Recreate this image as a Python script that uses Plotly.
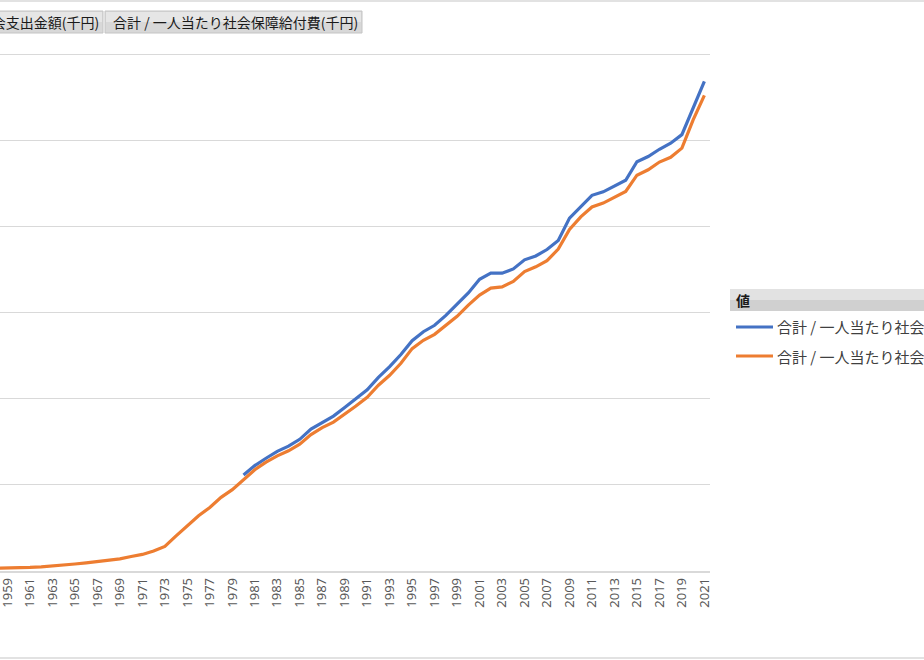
import plotly.graph_objects as go

# 一人当たり社会保障給付費 (千円)
years = list(range(1951, 2022))
benefit_per_capita = [
    1.9, 2.5, 3.0, 3.5, 4.4, 4.5, 4.8, 5.5, 6.0, 7.0,
    8.4, 9.8, 11.6, 13.8, 16.3, 18.9, 21.4, 24.5, 28.1, 33.7,
    38.5, 46.5, 57.2, 81.6, 105.2, 128.5, 147.7, 171.2, 189.1, 212.6,
    235.3, 252.9, 267.5, 279.4, 294.8, 317.0, 333.0, 346.0, 364.4, 383.2,
    403.7, 431.8, 454.8, 482.8, 516.7, 536.1, 549.9, 570.0, 591.9, 617.8,
    641.0, 657.3, 660.1, 672.9, 695.6, 706.8, 721.1, 747.9, 793.8, 822.8,
    845.9, 855.0, 868.9, 882.1, 919.7, 932.3, 950.3, 961.2, 982.6, 1048.4,
    1105.2,
]

# 一人当たり社会支出金額 (千円)
expense_years = list(range(1980, 2022))
expense_per_capita = [
    223, 245, 262, 278, 290, 306, 330, 346, 360, 380,
    400, 421, 450, 475, 503, 535, 556, 571, 594, 620,
    646, 678, 692, 692, 702, 723, 732, 747, 768, 820,
    847, 873, 881, 894, 908, 951, 963, 980, 994, 1014,
    1077, 1138,
]

tick_years = list(range(1959, 2022, 2))

name_expense = "合計 / 一人当たり社会支出金額(千円)"
name_benefit = "合計 / 一人当たり社会保障給付費(千円)"

BLUE = "#4472C4"
ORANGE = "#ED7D31"
GRID = "#d9d9d9"
FONT = "Noto Sans CJK JP"

# page / plot geometry (pixels)
W, H = 924, 660
L, R, T, B = 0, 214, 52, 89
plot_w = W - L - R
plot_h = H - T - B


def px(x):
    return (x - L) / plot_w


def py(y):
    return (H - B - y) / plot_h


fig = go.Figure()
fig.add_trace(go.Scatter(
    x=expense_years, y=expense_per_capita, name=name_expense,
    mode="lines", line=dict(color=BLUE, width=3.2),
))
fig.add_trace(go.Scatter(
    x=years, y=benefit_per_capita, name=name_benefit,
    mode="lines", line=dict(color=ORANGE, width=3.2),
))

shapes = []
annotations = []

# chart border lines (top and bottom)
for yy in (1, 658):
    shapes.append(dict(type="line", xref="paper", yref="paper",
                       x0=px(0), x1=px(W), y0=py(yy), y1=py(yy),
                       line=dict(color=GRID, width=1.5)))

# pivot field buttons
buttons = [(-200, 103, name_expense), (105, 362, name_benefit)]
for x0, x1, label in buttons:
    shapes.append(dict(type="rect", xref="paper", yref="paper",
                       x0=px(x0), x1=px(x1), y0=py(33), y1=py(11),
                       fillcolor="#d8d8d8", line=dict(color="#c4c4c4", width=1)))
    shapes.append(dict(type="rect", xref="paper", yref="paper",
                       x0=px(x0 + 1), x1=px(x1 - 1), y0=py(22), y1=py(12),
                       fillcolor="#e6e6e6", line=dict(width=0)))
    annotations.append(dict(xref="paper", yref="paper", x=px(x1 - 2), y=py(22),
                            xanchor="right", yanchor="middle", showarrow=False,
                            text=label, font=dict(family=FONT, size=14, color="#1a1a1a")))

# legend panel
shapes.append(dict(type="rect", xref="paper", yref="paper",
                   x0=px(730), x1=px(W + 5), y0=py(311), y1=py(289),
                   fillcolor="#d0d0d0", line=dict(width=0)))
shapes.append(dict(type="rect", xref="paper", yref="paper",
                   x0=px(730), x1=px(W + 5), y0=py(300), y1=py(289),
                   fillcolor="#e2e2e2", line=dict(width=0)))
annotations.append(dict(xref="paper", yref="paper", x=px(734), y=py(300),
                        xanchor="left", yanchor="middle", showarrow=False,
                        text="<b>値</b>", font=dict(family=FONT, size=14, color="#1a1a1a")))
for yy, color, label in [(327, BLUE, name_expense), (356, ORANGE, name_benefit)]:
    shapes.append(dict(type="line", xref="paper", yref="paper",
                       x0=px(736), x1=px(773), y0=py(yy), y1=py(yy),
                       line=dict(color=color, width=3.2)))
    annotations.append(dict(xref="paper", yref="paper", x=px(775), y=py(yy),
                            xanchor="left", yanchor="middle", showarrow=False,
                            text=label, font=dict(family=FONT, size=15, color="#404040")))

fig.update_layout(
    width=W, height=H,
    margin=dict(l=L, r=R, t=T, b=B, autoexpand=False),
    paper_bgcolor="white", plot_bgcolor="white",
    showlegend=False,
    shapes=shapes,
    annotations=annotations,
    font=dict(family=FONT),
    xaxis=dict(
        range=[2021.5 - plot_w / 11.24, 2021.5],
        tickmode="array", tickvals=tick_years,
        ticktext=[str(y) for y in tick_years],
        tickangle=-90,
        tickfont=dict(family="Noto Sans", size=13, color="#595959"),
        ticklabeloverflow="allow",
        showgrid=False, zeroline=False,
        showline=True, linecolor=GRID, linewidth=1.5,
        ticks="",
    ),
    yaxis=dict(
        range=[0, 1206], dtick=200,
        showticklabels=False,
        gridcolor=GRID, gridwidth=1.2,
        zeroline=False, showline=False,
    ),
)

# page body has an 8px default margin; drop it so the chart sits at the window corner
fig.write_html(
    "out.html",
    config={"displayModeBar": False},
    post_script="document.body.style.margin='0';document.body.style.overflow='hidden';",
)
